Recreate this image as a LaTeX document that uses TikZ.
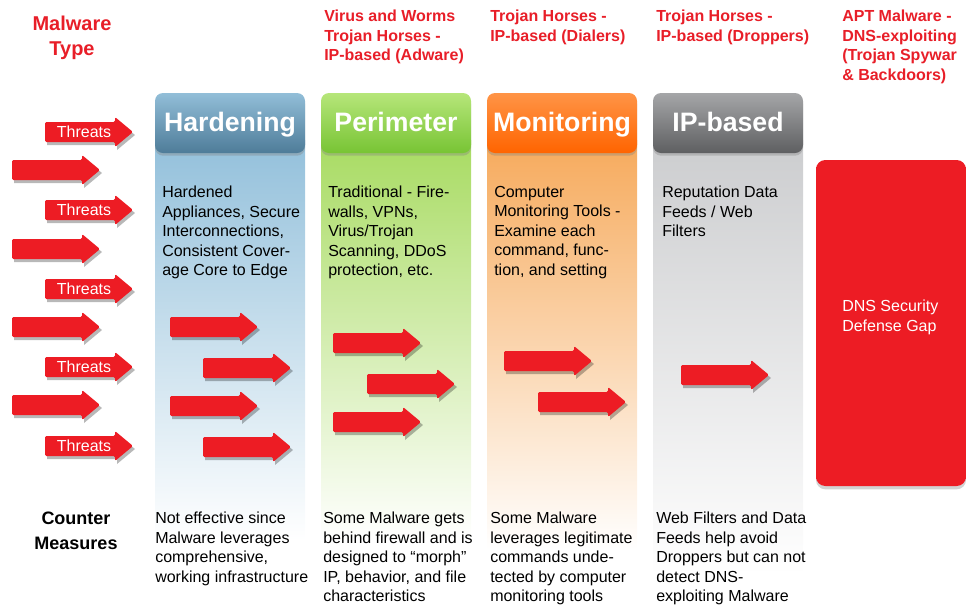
\documentclass[tikz,border=0pt]{standalone}
\usepackage{fontspec}
\setmainfont{Liberation Sans}
\usetikzlibrary{shadows,positioning}

\definecolor{malred}{RGB}{237,28,36}
\definecolor{typered}{RGB}{232,30,40}
\definecolor{hardtop}{RGB}{146,190,216}
\definecolor{hardbot}{RGB}{78,124,153}
\definecolor{hardbody}{RGB}{147,192,219}
\definecolor{pertop}{RGB}{182,230,122}
\definecolor{perbot}{RGB}{120,196,52}
\definecolor{perbody}{RGB}{168,219,98}
\definecolor{montop}{RGB}{255,148,70}
\definecolor{monbot}{RGB}{255,100,0}
\definecolor{monbody}{RGB}{246,170,92}
\definecolor{iptop}{RGB}{165,166,168}
\definecolor{ipbot}{RGB}{94,95,97}
\definecolor{ipbody}{RGB}{204,205,207}

\pgfdeclareverticalshading{gapgloss}{100bp}{color(0bp)=(malred); color(88bp)=(malred);
  color(100bp)=(malred!50!white)}
\pgfdeclareverticalshading{threatgloss}{100bp}{color(0bp)=(malred); color(72bp)=(malred);
  color(100bp)=(malred!65!white)}

\tikzset{
  header/.style={rounded corners=6pt, minimum width=112.5pt, minimum height=45pt,
    text=white, font=\fontsize{20}{24}\selectfont\bfseries,
    text height=14.5pt, text depth=2.5pt,
    drop shadow={shadow xshift=0pt, shadow yshift=-2pt, opacity=.35}},
  bodytext/.style={anchor=north west, inner sep=0pt, align=left,
    font=\fontsize{12}{14.6}\selectfont},
  typetext/.style={bodytext, text=typered, font=\fontsize{12}{14.6}\selectfont\bfseries},
  threatlabel/.style={inner sep=0pt, text=white, font=\fontsize{12}{14}\selectfont},
  gapbox/.style={rounded corners=7pt, minimum width=112.5pt, minimum height=244.5pt,
    shading=gapgloss, drop shadow={shadow xshift=0pt, shadow yshift=-2.5pt, opacity=.35}},
  threat/.pic={
    \fill[black, opacity=.28, shift={(2,3)}]
      (0,-10) -- (70,-10) -- (70,-15) -- (88,0) -- (70,15) -- (70,10) -- (0,10) -- cycle;
    \shade[shading=threatgloss, rounded corners=1pt]
      (0,-10) -- (70,-10) -- (70,-15) -- (88,0) -- (70,15) -- (70,10) -- (0,10) -- cycle;
  }
}

\begin{document}
\begin{tikzpicture}[x=0.75pt, y=-0.75pt]
\useasboundingbox (0,0) rectangle (966,604);

\node[typetext, anchor=north, align=center,
  font=\fontsize{15}{18.75}\selectfont\bfseries] (maltype) at (72,16) {Malware\\Type};
\node[typetext] (virus) at (324,10) {Virus and Worms\\Trojan Horses -\\IP-based (Adware)};
\node[typetext] (dialers) at (490,10) {Trojan Horses -\\IP-based (Dialers)};
\node[typetext] (droppers) at (656,10) {Trojan Horses -\\IP-based (Droppers)};
\node[typetext] (apt) at (842,10) {APT Malware -\\DNS-exploiting\\(Trojan Spywar\\\& Backdoors)};

\shade[top color=hardbody, bottom color=white] (155,140) rectangle (305,540);
\shade[top color=perbody, bottom color=white] (321,140) rectangle (471,540);
\shade[top color=monbody, bottom color=white] (487,140) rectangle (637,550);
\shade[top color=ipbody, bottom color=white] (653,140) rectangle (803,575);

\node[header, top color=hardtop, bottom color=hardbot] (hard) at (230,123) {Hardening};
\node[header, top color=pertop, bottom color=perbot] (per) at (396,123) {Perimeter};
\node[header, top color=montop, bottom color=monbot] (mon) at (562,123) {Monitoring};
\node[header, top color=iptop, bottom color=ipbot] (ip) at (728,123) {IP-based};

\node[gapbox] (gap) at (891,323) {};
\node[bodytext, text=white] (gaptext) at (842,300) {DNS Security\\Defense Gap};

\node[bodytext] (hardtext) at (162,186)
  {Hardened\\Appliances, Secure\\Interconnections,\\Consistent Cover-\\age Core to Edge};
\node[bodytext] (pertext) at (328,186)
  {Traditional - Fire-\\walls, VPNs,\\Virus/Trojan\\Scanning, DDoS\\protection, etc.};
\node[bodytext] (montext) at (494,186)
  {Computer\\Monitoring Tools -\\Examine each\\command, func-\\tion, and setting};
\node[bodytext] (iptext) at (662,186) {Reputation Data\\Feeds / Web\\Filters};

\pic at (45,132) {threat};
\pic at (12,170) {threat};
\pic at (45,210) {threat};
\pic at (12,249) {threat};
\pic at (45,289) {threat};
\pic at (12,327) {threat};
\pic at (45,367) {threat};
\pic at (12,405) {threat};
\pic at (45,446) {threat};
\node[threatlabel] (th1) at (84,132) {Threats};
\node[threatlabel] (th2) at (84,210) {Threats};
\node[threatlabel] (th3) at (84,289) {Threats};
\node[threatlabel] (th4) at (84,367) {Threats};
\node[threatlabel] (th5) at (84,446) {Threats};

\pic at (170,327) {threat};
\pic at (203,368) {threat};
\pic at (170,406) {threat};
\pic at (203,447) {threat};
\pic at (333,343) {threat};
\pic at (367,384) {threat};
\pic at (333,422) {threat};
\pic at (504,361) {threat};
\pic at (538,402) {threat};
\pic at (681,375) {threat};

\node[bodytext, anchor=north, align=center,
  font=\fontsize{13.5}{18.75}\selectfont\bfseries] (counter) at (76,512) {Counter\\Measures};
\node[bodytext] (hardcm) at (155,512)
  {Not effective since\\Malware leverages\\comprehensive,\\working infrastructure};
\node[bodytext] (percm) at (323,512)
  {Some Malware gets\\behind firewall and is\\designed to ``morph''\\IP, behavior, and file\\characteristics};
\node[bodytext] (moncm) at (490,512)
  {Some Malware\\leverages legitimate\\commands unde-\\tected by computer\\monitoring tools};
\node[bodytext] (ipcm) at (656,512)
  {Web Filters and Data\\Feeds help avoid\\Droppers but can not\\detect DNS-\\exploiting Malware};
\end{tikzpicture}
\end{document}
